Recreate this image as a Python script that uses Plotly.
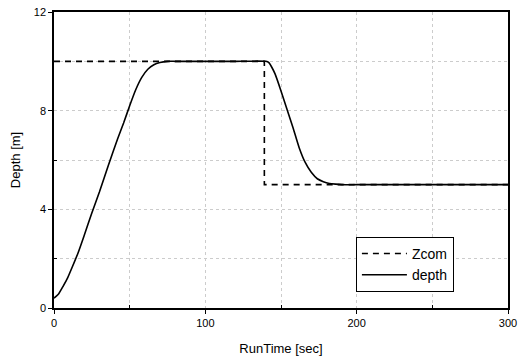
import plotly.graph_objects as go

time = [0, 3, 6, 9, 12, 16, 20, 25, 30, 36, 42, 46, 50, 54, 58, 62, 66, 70, 75, 80, 100, 120, 140,
        142, 144, 146, 150, 154, 158, 162, 166, 170, 174, 178, 182, 186, 190, 200, 250, 300]
depth = [0.4, 0.57, 0.88, 1.22, 1.65, 2.25, 2.95, 3.85, 4.7, 5.8, 6.85, 7.5, 8.2, 8.85, 9.35, 9.68, 9.86, 9.95, 10.0, 10.0, 10.0, 10.0, 10.0,
         9.95, 9.75, 9.5, 8.8, 8.05, 7.3, 6.5, 5.9, 5.5, 5.24, 5.12, 5.05, 5.02, 5.0, 5.0, 5.0, 5.0]

zcom_time = [0, 139, 139, 300]
zcom = [10, 10, 5, 5]

x_ticks = [0, 100, 200, 300]
y_ticks = [0, 4, 8, 12]

fig = go.Figure()
fig.add_trace(go.Scatter(x=zcom_time, y=zcom, mode="lines", name="Zcom",
                         line=dict(color="black", width=1.6, dash="6px,5px")))
fig.add_trace(go.Scatter(x=time, y=depth, mode="lines", name="depth",
                         line=dict(color="black", width=1.6, shape="spline", smoothing=0.4)))

font = "Liberation Sans, Arial, sans-serif"
grid_col = "#cccccc"
fig.update_layout(
    width=519, height=362,
    margin=dict(l=54, r=11, t=12, b=54),
    paper_bgcolor="white", plot_bgcolor="white",
    font=dict(family=font, color="black"),
    showlegend=True,
    legend=dict(x=0.665, y=0.24, xanchor="left", yanchor="top",
                bordercolor="black", borderwidth=1, bgcolor="white",
                font=dict(size=14, family=font), tracegroupgap=0,
                itemwidth=45),
)
fig.update_xaxes(
    range=[0, 300], tickvals=x_ticks, ticktext=[str(v) for v in x_ticks],
    showline=True, linecolor="black", linewidth=1.5, mirror=True,
    ticks="outside", ticklen=4, tickwidth=1.2, tickcolor="black",
    tickfont=dict(size=11, family=font),
    showgrid=True, gridcolor=grid_col, griddash="dot", gridwidth=1,
    minor=dict(tickvals=[50, 150, 250], showgrid=True, gridcolor=grid_col,
               griddash="dot", ticks="inside", ticklen=3, tickcolor="black"),
    zeroline=False, automargin=False, ticklabeloverflow="allow",
    title=dict(text="RunTime [sec]", font=dict(size=13, family=font), standoff=16),
)
fig.update_yaxes(
    range=[0, 12], tickvals=y_ticks, ticktext=[str(v) for v in y_ticks],
    showline=True, linecolor="black", linewidth=1.5, mirror=True,
    ticks="outside", ticklen=4, tickwidth=1.2, tickcolor="black",
    tickfont=dict(size=11, family=font),
    showgrid=True, gridcolor=grid_col, griddash="dot", gridwidth=1,
    minor=dict(tickvals=[2, 6, 10], showgrid=True, gridcolor=grid_col,
               griddash="dot", ticks="inside", ticklen=3, tickcolor="black"),
    zeroline=False, automargin=False, ticklabeloverflow="allow",
    title=dict(text="Depth [m]", font=dict(size=13, family=font), standoff=10),
)

# remove the default 8px page margin so the figure fills the 519x362 window exactly
fig.write_html("out.html", config={"displayModeBar": False},
               post_script="document.body.style.margin='0';")
